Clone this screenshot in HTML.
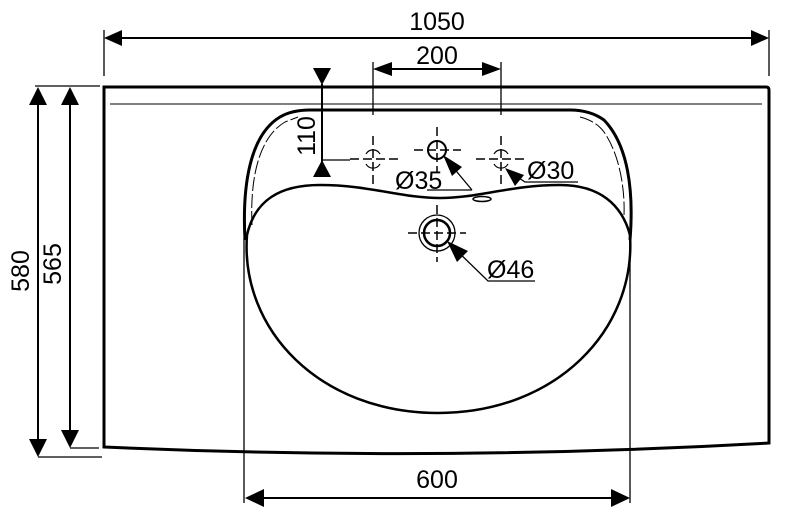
<!DOCTYPE html>
<html><head><meta charset="utf-8"><style>
html,body{margin:0;padding:0;background:#fff;}
svg{display:block;}
text{font-family:"Liberation Sans",sans-serif;font-size:25px;fill:#000;}
</style></head><body>
<svg width="800" height="522" viewBox="0 0 800 522" xmlns="http://www.w3.org/2000/svg">
<g fill="none" stroke="#000">
<path d="M104,87 L766,87 Q769,87 769,90 L769,443 Q437,462 104,447 Z" stroke-width="3"/>
<line x1="110" y1="104" x2="762" y2="104" stroke-width="1"/>
<path d="M245,240 C242,185 250,135 280,117 Q292,110 310,110 L570,110 Q590,110 604,120 C628,145 634,190 630,240" stroke-width="3"/>
<path d="M252,225 C250,180 258,138 285,122 L298,117 M580,117 Q596,121 604,132 C620,155 625,190 624,215" stroke-width="1" stroke-dasharray="14,3"/>
<path d="M247,235 C255,200 280,185 320,185 C370,185 400,198 440,198 C480,198 510,185 560,185 C600,185 622,205 630,235" stroke-width="2.5"/>
<path d="M247,235 C240,330 320,413 438,413 C556,413 636,330 630,235" stroke-width="2.5"/>
<ellipse cx="482" cy="199" rx="9" ry="2.5" stroke-width="1.5"/>
<line x1="104" y1="30" x2="104" y2="76" stroke-width="1.3"/>
<line x1="769" y1="30" x2="769" y2="76" stroke-width="1.3"/>
<line x1="122" y1="38" x2="751" y2="38" stroke-width="2"/>
<path d="M104,38 L122,30 L122,46Z M769,38 L751,30 L751,46Z" fill="#000" stroke="none"/>
<line x1="373" y1="62" x2="373" y2="115" stroke-width="1.3"/>
<line x1="501" y1="62" x2="501" y2="115" stroke-width="1.3"/>
<line x1="390" y1="69" x2="484" y2="69" stroke-width="2"/>
<path d="M373,69 L392,62 L392,76Z M501,69 L482,62 L482,76Z" fill="#000" stroke="none"/>
<line x1="35" y1="86" x2="100" y2="86" stroke-width="1.3"/>
<line x1="38" y1="457" x2="102" y2="457" stroke-width="1.3"/>
<line x1="70" y1="448" x2="99" y2="448" stroke-width="1.3"/>
<line x1="38" y1="105" x2="38" y2="440" stroke-width="2"/>
<path d="M38,87 L29,105 L47,105Z M38,457 L29,439 L47,439Z" fill="#000" stroke="none"/>
<line x1="70" y1="105" x2="70" y2="430" stroke-width="2"/>
<path d="M70,87 L61,105 L79,105Z M70,448 L61,430 L79,430Z" fill="#000" stroke="none"/>
<line x1="322" y1="84" x2="322" y2="163" stroke-width="2"/>
<line x1="322" y1="160" x2="350" y2="160" stroke-width="1.3"/>
<path d="M313,68 L331,68 L322,85Z M313,177 L331,177 L322,160Z" fill="#000" stroke="none"/>
<line x1="244" y1="238" x2="244" y2="503" stroke-width="1.3"/>
<line x1="630" y1="238" x2="630" y2="503" stroke-width="1.3"/>
<line x1="262" y1="498" x2="612" y2="498" stroke-width="2"/>
<path d="M245,498 L264,489 L264,507Z M630,498 L611,489 L611,507Z" fill="#000" stroke="none"/>
<g stroke-width="1.5" stroke-dasharray="9,4">
<line x1="350" y1="159" x2="400" y2="159"/><line x1="373" y1="136" x2="373" y2="185"/>
<line x1="476" y1="159" x2="524" y2="159"/><line x1="501" y1="136" x2="501" y2="185"/>
<line x1="414" y1="150" x2="461" y2="150"/><line x1="437" y1="127" x2="437" y2="173"/>
<line x1="408" y1="233" x2="466" y2="233"/><line x1="437" y1="205" x2="437" y2="262"/>
</g>
<path d="M366,154 A8,8 0 0 1 380,154 M366,164 A8,8 0 0 0 380,164 M494,154 A8,8 0 0 1 508,154 M494,164 A8,8 0 0 0 508,164" stroke-width="1.2"/>
<circle cx="437" cy="150" r="9" stroke-width="2"/>
<circle cx="437" cy="233" r="13" stroke-width="2.5"/>
<circle cx="437" cy="233" r="18" stroke-width="1.3"/>
<path d="M472,190 L427,190 M472,190 L447,160" stroke-width="1.3"/>
<path d="M443,155 L462,167 L452,176Z" fill="#000" stroke="none"/>
<path d="M578,182 L525,182 L510,172" stroke-width="1.3"/>
<path d="M505,168 L524,175 L515,186Z" fill="#000" stroke="none"/>
<path d="M535,281 L488,281 L452,246" stroke-width="1.3"/>
<path d="M447,241 L468,251 L457,262Z" fill="#000" stroke="none"/>
</g>
<text x="437" y="30" text-anchor="middle">1050</text>
<text x="437" y="64" text-anchor="middle">200</text>
<text x="437" y="488" text-anchor="middle">600</text>
<text transform="translate(29,271) rotate(-90)" text-anchor="middle">580</text>
<text transform="translate(61,264) rotate(-90)" text-anchor="middle">565</text>
<text transform="translate(315,136) rotate(-90)" text-anchor="middle">110</text>
<text x="395" y="189">Ø35</text>
<text x="527" y="179">Ø30</text>
<text x="487" y="278">Ø46</text>
</svg>
</body></html>
